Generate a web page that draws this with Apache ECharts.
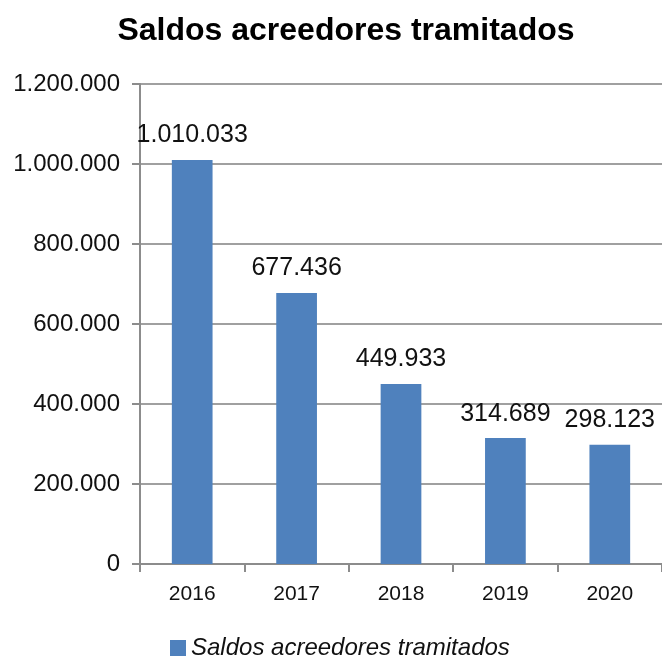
<!DOCTYPE html>
<html>
<head>
<meta charset="utf-8">
<script src="https://cdn.jsdelivr.net/npm/echarts@6/dist/echarts.min.js"></script>
<style>
  html, body { margin: 0; padding: 0; background: #fff; }
  #chart { width: 662px; height: 661px; }
</style>
</head>
<body>
<div id="chart"></div>
<script>
const years = ['2016', '2017', '2018', '2019', '2020'];
const saldos = [1010033, 677436, 449933, 314689, 298123];
const yTicks = [0, 200000, 400000, 600000, 800000, 1000000, 1200000];

// 1200000 -> "1.200.000"
const fmt = v => String(v).replace(/\B(?=(\d{3})+(?!\d))/g, '.');

const chart = echarts.init(document.getElementById('chart'));
chart.setOption({
  animation: false,
  title: {
    text: 'Saldos acreedores tramitados',
    left: 341,
    textAlign: 'center',
    top: 10,
    textStyle: { fontFamily: 'Liberation Sans', fontSize: 32, fontWeight: 'bold', color: '#000' }
  },
  legend: {
    data: ['Saldos acreedores tramitados'],
    top: 636,
    left: 170,
    padding: 0,
    itemWidth: 16,
    itemHeight: 16,
    itemGap: 8,
    icon: 'rect',
    textStyle: { fontFamily: 'Liberation Sans', fontSize: 24, fontStyle: 'italic', color: '#111' }
  },
  grid: { left: 140, right: 0, top: 84, bottom: 97 },
  xAxis: {
    type: 'category',
    data: years,
    axisLine: { lineStyle: { color: '#8c8c8c', width: 2 } },
    axisTick: { show: true, length: 8, lineStyle: { color: '#8c8c8c', width: 2 } },
    axisLabel: { margin: 20, fontFamily: 'Liberation Sans', fontSize: 21, color: '#111' }
  },
  yAxis: {
    type: 'value',
    min: yTicks[0],
    max: yTicks[yTicks.length - 1],
    interval: 200000,
    axisLine: { show: true, lineStyle: { color: '#8c8c8c', width: 2 } },
    axisTick: { show: true, length: 8, lineStyle: { color: '#8c8c8c', width: 2 } },
    splitLine: { lineStyle: { color: '#a0a0a0', width: 2 } },
    axisLabel: { margin: 20, fontFamily: 'Liberation Sans', fontSize: 24, color: '#111', formatter: fmt }
  },
  series: [{
    name: 'Saldos acreedores tramitados',
    type: 'bar',
    data: saldos,
    barWidth: '39%',
    itemStyle: { color: '#4f81bd' },
    label: {
      show: true,
      position: 'top',
      distance: 12,
      fontFamily: 'Liberation Sans',
      fontSize: 25,
      color: '#111',
      formatter: p => fmt(p.value)
    }
  }]
});
</script>
</body>
</html>
